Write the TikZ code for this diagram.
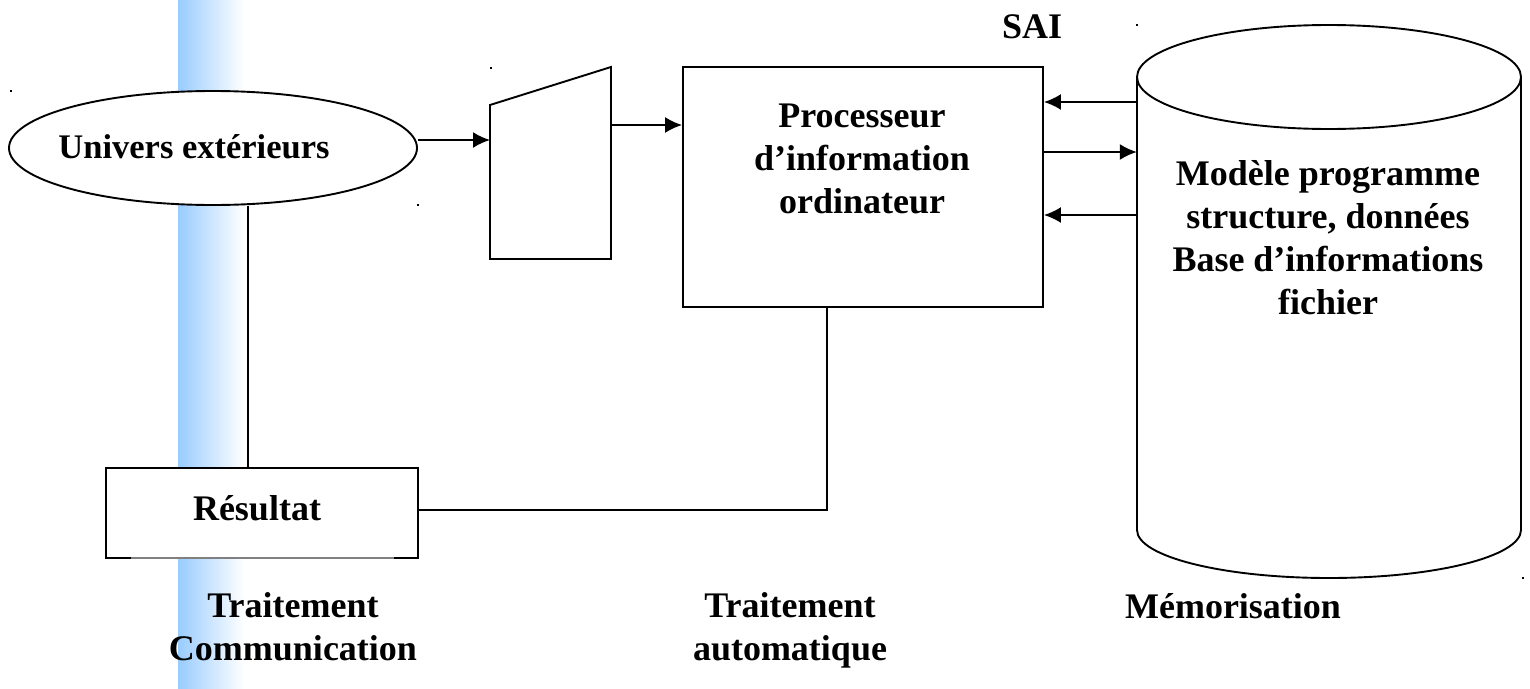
\documentclass[tikz,border=0pt]{standalone}
\usepackage{fontspec}
\setmainfont{Liberation Serif}
\usetikzlibrary{arrows.meta,shapes.geometric}
\definecolor{barblue}{RGB}{153,204,255}
\tikzset{
  ln/.style={line width=1.9pt, black},
  arr/.style={ln, -{Latex[length=17pt,width=16pt]}},
  txt/.style={font=\bfseries\fontsize{36}{43}\selectfont, align=center, inner sep=0pt},
  box/.style={ln, draw, fill=white, inner sep=0pt},
  dot/.style={fill=black},
}
\begin{document}
\begin{tikzpicture}[x=1pt,y=-1pt]
\useasboundingbox (0,0) rectangle (1530,688);
% blue bar
\shade[left color=barblue, right color=white] (178,0) rectangle (244,688);
% corner dots
\fill[dot] (10,90) rectangle (12,92);
\fill[dot] (490,67) rectangle (492,69);
\fill[dot] (417,204) rectangle (419,206);
\fill[dot] (1136,24) rectangle (1138,26);
\fill[dot] (1522,577) rectangle (1524,579);
% ellipse
\node[ln, draw, fill=white, ellipse, minimum width=408, minimum height=114, inner sep=0pt] (ue) at (213,148) {};
\node[txt, font=\bfseries\fontsize{34.5}{43}\selectfont, anchor=base] (uet) at (194,158) {Univers extérieurs};
% trapezoid
\coordinate (tA) at (490,105);
\coordinate (tB) at (611,67);
\coordinate (tC) at (611,259);
\coordinate (tD) at (490,259);
\draw[ln] (tA) -- (tB) -- (tC) -- (tD) -- cycle;
\coordinate (tin) at (490,140);
\coordinate (tout) at (611,125);
% processor box
\node[box, minimum width=360, minimum height=240] (proc) at (863,187) {};
\node[txt, anchor=base] (proct) at (862,213) {Processeur\\d’information\\ordinateur};
% SAI
\node[txt, anchor=base] (sai) at (1032,38) {SAI};
% cylinder
\node[minimum width=384, minimum height=553, inner sep=0pt] (mem) at (1329,301.5) {};
\draw[ln, fill=white] (1137,77) -- (1137,530) arc[start angle=180, end angle=0, x radius=192, y radius=48] -- (1521,77);
\draw[ln] (1329,77) ellipse[x radius=192, y radius=52];
\node[txt, anchor=base] (memt) at (1328,314) {Modèle programme\\structure, données\\Base d’informations\\fichier};
% Resultat
\node[box, minimum width=312, minimum height=90] (res) at (262,513) {};
\draw[line width=1.3pt, gray] (131,558) -- (394,558);
\node[txt, anchor=base] (rest) at (257,520) {Résultat};
% connectors
\draw[arr] (ue.east |- 0,140) -- (tin);
\draw[arr] (tout) -- (proc.west |- tout);
\draw[arr] (mem.west |- 0,102) -- (proc.east |- 0,102);
\draw[arr] (proc.east |- 0,152) -- (mem.west |- 0,152);
\draw[arr] (mem.west |- 0,215) -- (proc.east |- 0,215);
\draw[ln] (ue.south -| 248,0) -- (res.north -| 248,0);
\draw[ln] (res.east |- 0,510) -| (proc.south -| 827,0);
% bottom labels
\node[txt, anchor=base] (l1) at (293,660) {Traitement\\Communication};
\node[txt, anchor=base] (l2) at (790,660) {Traitement\\automatique};
\node[txt, anchor=base] (l3) at (1233,618) {Mémorisation};
\end{tikzpicture}
\end{document}
